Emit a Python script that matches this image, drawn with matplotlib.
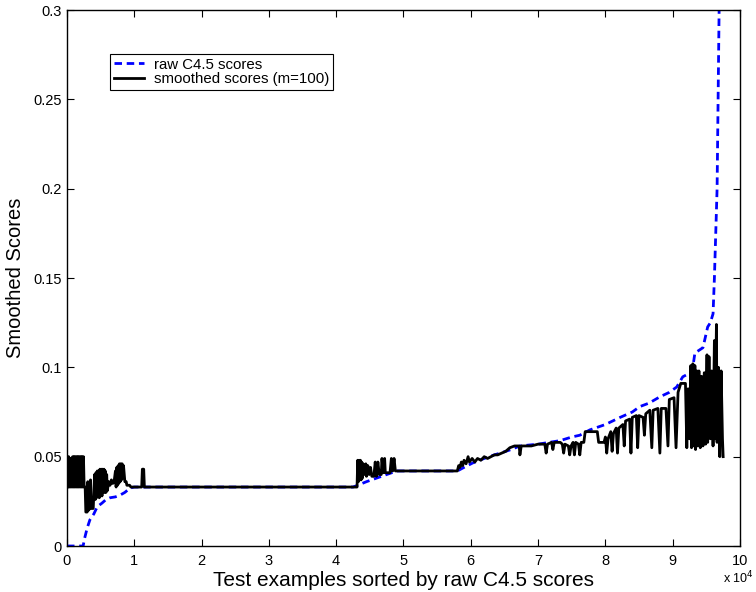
import matplotlib
matplotlib.use('Agg')
import matplotlib.pyplot as plt
import numpy as np

plt.rcParams['font.family'] = ['Liberation Sans', 'DejaVu Sans']

# raw C4.5 scores (x in units of 1e4 examples)
RawX = [0, 0.24, 0.26, 0.30, 0.34, 0.40, 0.45, 0.52, 0.58, 0.64, 0.72, 0.79, 0.86, 0.94, 1.0,
        4.25, 4.32, 4.45, 4.60, 4.75, 4.90, 5.80, 5.90, 6.03, 6.20, 6.35, 6.48, 6.60, 6.73,
        7.00, 7.33, 7.50, 7.62, 7.77, 8.00, 8.22, 8.40, 8.51, 8.65, 8.81, 8.95, 9.06, 9.15,
        9.29, 9.33, 9.45, 9.52, 9.56, 9.60, 9.62, 9.64, 9.66, 9.675, 9.69]
RawY = [0, 0, 0.004, 0.010, 0.0146, 0.018, 0.022, 0.024, 0.026, 0.027, 0.0275, 0.0285, 0.030, 0.0325, 0.033,
        0.033, 0.034, 0.036, 0.038, 0.040, 0.042, 0.042, 0.044, 0.0465, 0.049, 0.051, 0.0525, 0.054, 0.056,
        0.057, 0.059, 0.061, 0.062, 0.065, 0.068, 0.072, 0.075, 0.078, 0.080, 0.0835, 0.086, 0.089, 0.0947,
        0.0975, 0.108, 0.111, 0.1226, 0.125, 0.130, 0.150, 0.175, 0.200, 0.250, 0.300]

# smoothed scores (m=100)
SmX = [0, 0.005, 0.015, 0.025, 0.035, 0.045, 0.055, 0.065, 0.075, 0.085, 0.095, 0.105, 0.115,
       0.125, 0.135, 0.145, 0.155, 0.165, 0.175, 0.185, 0.195, 0.205, 0.215, 0.225, 0.235, 0.245, 0.255,
       0.27, 0.28, 0.30, 0.31, 0.32, 0.34, 0.35, 0.36, 0.39, 0.40,
       0.41, 0.42, 0.43, 0.44, 0.45, 0.46, 0.47, 0.48, 0.49, 0.50, 0.51, 0.52, 0.53, 0.54, 0.55, 0.56,
       0.57, 0.58, 0.59, 0.60, 0.62, 0.64, 0.66, 0.68, 0.70, 0.72, 0.73, 0.74, 0.75, 0.76, 0.77, 0.78,
       0.79, 0.80, 0.81, 0.82, 0.83, 0.84, 0.86, 0.88, 0.89, 0.93, 0.95, 1.11, 1.12, 1.14, 1.15,
       4.30, 4.31, 4.32, 4.33, 4.34, 4.35, 4.36, 4.37, 4.38, 4.39, 4.40, 4.42, 4.44, 4.45, 4.47, 4.49,
       4.51, 4.53, 4.56, 4.58, 4.60, 4.62, 4.64, 4.67, 4.68, 4.70, 4.72, 4.73, 4.80, 4.82, 4.84, 4.86,
       4.88, 5.80,
       5.82, 5.84, 5.86, 5.88, 5.90, 5.93, 5.96, 5.98, 6.02, 6.06, 6.10, 6.15, 6.20, 6.25, 6.30, 6.35,
       6.40, 6.46, 6.52, 6.58, 6.65, 6.72, 6.73, 6.75, 6.90, 7.00, 7.10, 7.12, 7.14, 7.20, 7.22, 7.24,
       7.33,
       7.36, 7.38, 7.40, 7.45, 7.47, 7.49, 7.52, 7.54, 7.56, 7.60, 7.62, 7.64, 7.68, 7.70, 7.88, 7.90,
       7.98, 8.00, 8.02, 8.04, 8.08, 8.10, 8.12, 8.16, 8.18, 8.20, 8.26, 8.28, 8.30, 8.36, 8.38, 8.40,
       8.46, 8.48, 8.50, 8.56, 8.58, 8.60, 8.66, 8.69, 8.71, 8.78, 8.81, 8.83, 8.90, 8.93, 8.95, 9.02,
       9.05, 9.08, 9.12, 9.19, 9.21, 9.23, 9.25, 9.27, 9.28, 9.30, 9.31, 9.33, 9.34, 9.36, 9.37, 9.39,
       9.41, 9.43, 9.45, 9.47, 9.49, 9.51, 9.52, 9.54, 9.56, 9.58, 9.60, 9.62, 9.63, 9.65, 9.66, 9.68,
       9.70, 9.72, 9.74, 9.75]
SmY = [0.033, 0.050, 0.033, 0.050, 0.033, 0.048, 0.033, 0.049, 0.033, 0.050, 0.033, 0.050, 0.033,
       0.050, 0.033, 0.050, 0.033, 0.050, 0.033, 0.050, 0.033, 0.050, 0.033, 0.050, 0.033, 0.050, 0.033,
       0.033, 0.019, 0.019, 0.036, 0.020, 0.021, 0.037, 0.021, 0.021, 0.030,
       0.040, 0.026, 0.041, 0.027, 0.042, 0.028, 0.042, 0.027, 0.043, 0.029, 0.043, 0.028, 0.043, 0.030,
       0.043, 0.030, 0.042, 0.030, 0.040, 0.031, 0.036, 0.034, 0.037, 0.035, 0.036, 0.042, 0.033, 0.044,
       0.034, 0.045, 0.035, 0.046, 0.036, 0.046, 0.037, 0.046, 0.038, 0.045, 0.036, 0.036, 0.034, 0.034,
       0.033, 0.033, 0.043, 0.043, 0.033,
       0.033, 0.033, 0.048, 0.036, 0.048, 0.037, 0.048, 0.037, 0.047, 0.038, 0.046, 0.040, 0.046, 0.039,
       0.045, 0.040, 0.044, 0.039, 0.039, 0.047, 0.039, 0.047, 0.040, 0.040, 0.049, 0.041, 0.049, 0.041,
       0.041, 0.049, 0.042, 0.049, 0.042, 0.042,
       0.045, 0.044, 0.047, 0.045, 0.048, 0.046, 0.050, 0.047, 0.049, 0.047, 0.049, 0.048, 0.050, 0.049,
       0.050, 0.051, 0.051, 0.052, 0.053, 0.055, 0.056, 0.056, 0.051, 0.056, 0.056, 0.057, 0.057, 0.052,
       0.057, 0.058, 0.054, 0.058, 0.058,
       0.057, 0.052, 0.057, 0.056, 0.051, 0.056, 0.058, 0.051, 0.058, 0.057, 0.051, 0.058, 0.058, 0.064,
       0.064, 0.058, 0.058, 0.061, 0.052, 0.060, 0.064, 0.053, 0.063, 0.066, 0.052, 0.066, 0.068, 0.056,
       0.070, 0.071, 0.052, 0.072, 0.073, 0.055, 0.073, 0.072, 0.062, 0.074, 0.076, 0.055, 0.076, 0.077,
       0.052, 0.077, 0.077, 0.056, 0.082, 0.083, 0.055, 0.086, 0.091, 0.091, 0.055, 0.088, 0.060, 0.101,
       0.055, 0.102, 0.056, 0.101, 0.054, 0.098, 0.056, 0.098, 0.055, 0.095, 0.056, 0.097, 0.057, 0.107,
       0.058, 0.106, 0.060, 0.098, 0.056, 0.115, 0.060, 0.124, 0.058, 0.100, 0.050, 0.098, 0.060, 0.050]

XTicks = [0, 1, 2, 3, 4, 5, 6, 7, 8, 9, 10]
YTicks = [0, 0.05, 0.1, 0.15, 0.2, 0.25, 0.3]
YTickLabels = ['0', '0.05', '0.1', '0.15', '0.2', '0.25', '0.3']

fig = plt.figure(figsize=(7.56, 5.92), dpi=100)
ax1 = plt.axes([0.0886, 0.0777, 0.8902, 0.9054])  # left, bottom, width, height

ax1.plot(RawX, RawY, c='blue', linestyle='--', dashes=(2.7, 1.7), linewidth=2,
         label='raw C4.5 scores')
ax1.plot(SmX, SmY, c='black', linestyle='solid', linewidth=2,
         label='smoothed scores (m=100)')

ax1.set_xlim(0, 10)
ax1.set_ylim(0, 0.3)
ax1.set_xticks(XTicks)
ax1.set_xticklabels([str(t) for t in XTicks])
ax1.set_yticks(YTicks)
ax1.set_yticklabels(YTickLabels)
ax1.tick_params(direction='in', top=True, right=True, labelsize=10.5, length=5, width=0.8)
ax1.tick_params(axis='x', pad=6)
for sp in ax1.spines.values():
    sp.set_linewidth(1.0)

ax1.set_xlabel('Test examples sorted by raw C4.5 scores', fontsize=15, labelpad=2)
ax1.set_ylabel('Smoothed Scores', fontsize=14.5, labelpad=6)

ax1.annotate(r'x 10$^4$', xy=(0.975, -0.06), xycoords='axes fraction', size=9,
             ha='left', va='center')

leg = ax1.legend(loc='upper left', bbox_to_anchor=(0.064, 0.918), borderaxespad=0,
                 fontsize=10.8, fancybox=False, framealpha=1, edgecolor='black',
                 handlelength=2.0, borderpad=0.25, labelspacing=0.05, handletextpad=0.65)
leg.get_frame().set_linewidth(0.8)

plt.savefig('out.png', dpi=100)
